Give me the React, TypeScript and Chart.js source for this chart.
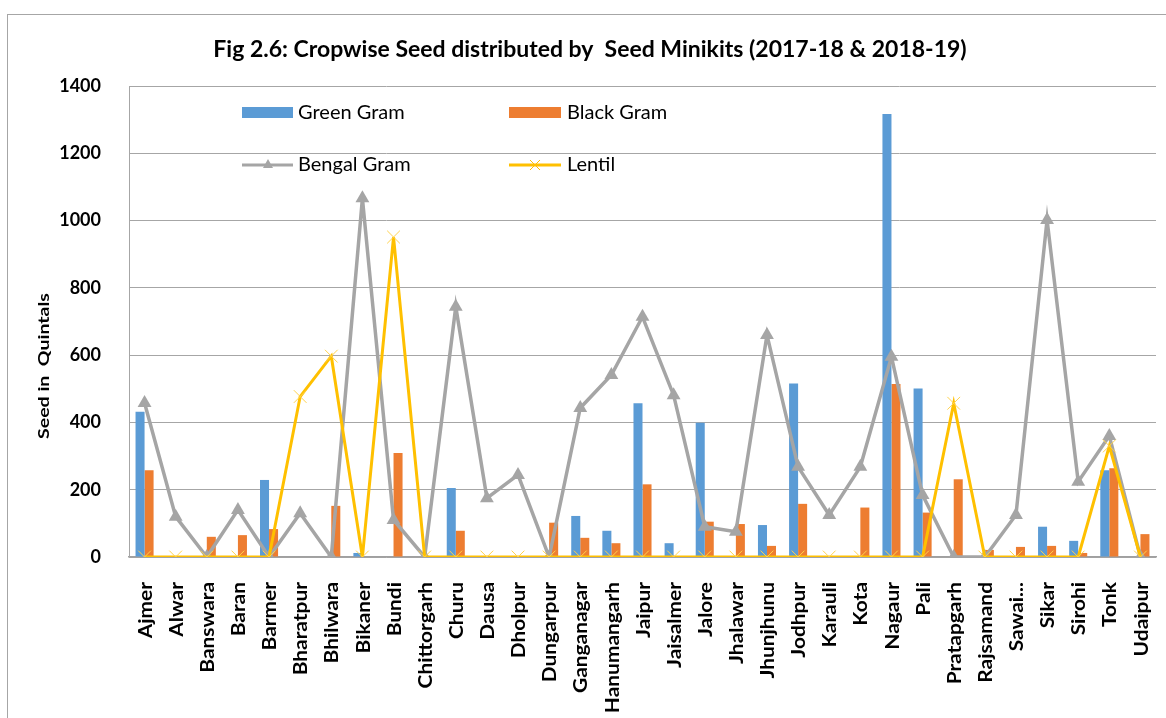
import React, { useEffect, useRef } from "react";
import { Chart, registerables } from "chart.js";
Chart.register(...registerables);

const categories = [
  "Ajmer", "Alwar", "Banswara", "Baran", "Barmer", "Bharatpur", "Bhilwara", "Bikaner", "Bundi",
  "Chittorgarh", "Churu", "Dausa", "Dholpur", "Dungarpur", "Ganganagar", "Hanumangarh", "Jaipur",
  "Jaisalmer", "Jalore", "Jhalawar", "Jhunjhunu", "Jodhpur", "Karauli", "Kota", "Nagaur", "Pali",
  "Pratapgarh", "Rajsamand", "Sawai...", "Sikar", "Sirohi", "Tonk", "Udaipur",
];

const greenGram = [432, 0, 0, 0, 229, 0, 0, 12, 0, 0, 205, 0, 0, 0, 122, 78, 457, 41, 399, 0, 95, 516, 0, 0, 1317, 501, 0, 0, 0, 90, 48, 258, 0];
const blackGram = [258, 0, 60, 65, 83, 0, 152, 0, 309, 0, 78, 0, 0, 102, 57, 41, 216, 0, 105, 98, 33, 158, 0, 147, 514, 132, 231, 21, 30, 33, 12, 264, 68];
const bengalGram = [458, 120, 0, 140, 0, 130, 0, 1066, 110, 0, 744, 175, 244, 0, 443, 541, 714, 481, 90, 75, 660, 268, 125, 268, 595, 184, 0, 0, 125, 1002, 224, 360, 0];
const lentil = [0, 0, 0, 0, 0, 477, 597, 0, 951, 0, 0, 0, 0, 0, 0, 0, 0, 0, 0, 0, 0, 0, 0, 0, 0, 0, 457, 0, 0, 0, 0, 330, 0];

const yTicks = [0, 200, 400, 600, 800, 1000, 1200, 1400];

const TITLE = "Fig 2.6: Cropwise Seed distributed by  Seed Minikits (2017-18 & 2018-19)";
const Y_TITLE = "Seed in  Quintals";

const C_GREEN = "#5B9BD5";
const C_BLACK = "#ED7D31";
const C_BENGAL = "#A5A5A5";
const C_LENTIL = "#FFC000";
const FONT = "Lato, 'Open Sans', sans-serif";

const decorPlugin = {
  id: "decor",
  afterDraw(chart: any) {
    const ctx = chart.ctx as CanvasRenderingContext2D;
    ctx.save();
    // Title
    ctx.fillStyle = "#000";
    ctx.font = `bold 23px ${FONT}`;
    ctx.textAlign = "center";
    ctx.textBaseline = "middle";
    ctx.fillText(TITLE, 590, 50);
    // Y axis title
    ctx.save();
    ctx.translate(44, 366);
    ctx.rotate(-Math.PI / 2);
    ctx.scale(1.22, 1);
    ctx.font = `bold 16px ${FONT}`;
    ctx.fillText(Y_TITLE, 0, 0);
    ctx.restore();
    // X category labels (taken from the category scale)
    const xs = chart.scales.x;
    const top = chart.chartArea.bottom + 25;
    ctx.font = `bold 19px ${FONT}`;
    ctx.textAlign = "right";
    ctx.textBaseline = "middle";
    xs.ticks.forEach((_t: any, i: number) => {
      const x = xs.getPixelForTick(i);
      const label = xs.getLabelForValue(i);
      ctx.save();
      ctx.translate(x + 1, top);
      ctx.rotate(-Math.PI / 2);
      ctx.scale(1.1, 1);
      ctx.fillText(label, 0, 0);
      ctx.restore();
    });
    // Legend
    ctx.textAlign = "left";
    ctx.textBaseline = "middle";
    ctx.font = `20px ${FONT}`;
    ctx.fillStyle = C_GREEN;
    ctx.fillRect(242, 107, 51, 11);
    ctx.fillStyle = C_BLACK;
    ctx.fillRect(509, 107, 52, 11);
    ctx.lineWidth = 3;
    ctx.strokeStyle = C_BENGAL;
    ctx.beginPath();
    ctx.moveTo(242, 165);
    ctx.lineTo(293, 165);
    ctx.stroke();
    ctx.fillStyle = C_BENGAL;
    ctx.beginPath();
    ctx.moveTo(268, 159);
    ctx.lineTo(273, 168);
    ctx.lineTo(263, 168);
    ctx.closePath();
    ctx.fill();
    ctx.strokeStyle = C_LENTIL;
    ctx.beginPath();
    ctx.moveTo(509, 165);
    ctx.lineTo(561, 165);
    ctx.stroke();
    ctx.lineWidth = 1;
    ctx.beginPath();
    ctx.moveTo(530, 160);
    ctx.lineTo(540, 170);
    ctx.moveTo(540, 160);
    ctx.lineTo(530, 170);
    ctx.stroke();
    ctx.fillStyle = "#000";
    ctx.fillText("Green Gram", 298, 113);
    ctx.fillText("Black Gram", 567, 113);
    ctx.fillText("Bengal Gram", 298, 165);
    ctx.fillText("Lentil", 567, 165);
    ctx.restore();
  },
};

export default function App() {
  const ref = useRef<HTMLCanvasElement>(null);
  useEffect(() => {
    let chart: Chart | null = null;
    let cancelled = false;
    const make = () => {
      if (cancelled || !ref.current) return;
      chart = new Chart(ref.current, {
        type: "bar",
        data: {
          labels: categories,
          datasets: [
            {
              type: "line",
              label: "Lentil",
              data: lentil,
              borderColor: C_LENTIL,
              backgroundColor: C_LENTIL,
              borderWidth: 3,
              pointStyle: "crossRot",
              pointRadius: 9,
              pointBorderWidth: 1,
              pointBorderColor: "#FFD24D",
              tension: 0,
              order: 0,
            } as any,
            {
              type: "line",
              label: "Bengal Gram",
              data: bengalGram,
              borderColor: C_BENGAL,
              backgroundColor: C_BENGAL,
              borderWidth: 3.5,
              pointStyle: "triangle",
              pointRadius: 8,
              pointBorderWidth: 0,
              pointBackgroundColor: C_BENGAL,
              tension: 0,
              order: 1,
            } as any,
            {
              type: "bar",
              label: "Green Gram",
              data: greenGram,
              backgroundColor: C_GREEN,
              barPercentage: 1,
              categoryPercentage: 0.58,
              order: 2,
            },
            {
              type: "bar",
              label: "Black Gram",
              data: blackGram,
              backgroundColor: C_BLACK,
              barPercentage: 1,
              categoryPercentage: 0.58,
              order: 3,
            },
          ],
        },
        options: {
          responsive: false,
          animation: false,
          layout: { padding: { left: 0, right: 8, top: 86, bottom: 0 } },
          plugins: {
            legend: { display: false },
            title: { display: false },
            tooltip: { enabled: false },
          },
          scales: {
            x: {
              offset: true,
              grid: { display: false, drawTicks: false },
              border: { display: true, color: "#A0A0A0", width: 1.5 },
              ticks: { display: false, autoSkip: false },
              afterFit: (s: any) => {
                s.height = 161;
              },
            },
            y: {
              min: 0,
              max: 1400,
              afterBuildTicks: (s: any) => {
                s.ticks = yTicks.map((v) => ({ value: v }));
              },
              grid: { color: "#A6A6A6", lineWidth: 1, drawTicks: false },
              border: { display: true, color: "#A6A6A6", width: 1 },
              ticks: {
                padding: 28,
                color: "#000",
                font: { family: FONT, weight: "bold", size: 18 },
                callback: (v: any) => String(v),
              },
              afterFit: (s: any) => {
                s.width = 129;
              },
            },
          },
        },
        plugins: [decorPlugin],
      });
    };
    Promise.all([
      document.fonts.load(`bold 18px Lato`),
      document.fonts.load(`18px Lato`),
    ]).then(make, make);
    return () => {
      cancelled = true;
      if (chart) chart.destroy();
    };
  }, []);
  return (
    <div style={{ position: "absolute", left: 0, top: 0, width: 1166, height: 718, overflow: "hidden", background: "#fff" }}>
      <div style={{ position: "absolute", left: 7, top: 14, width: 1200, height: 720, border: "1px solid #A6A6A6" }} />
      <canvas ref={ref} width={1166} height={718} style={{ position: "absolute", left: 0, top: 0 }} />
    </div>
  );
}
